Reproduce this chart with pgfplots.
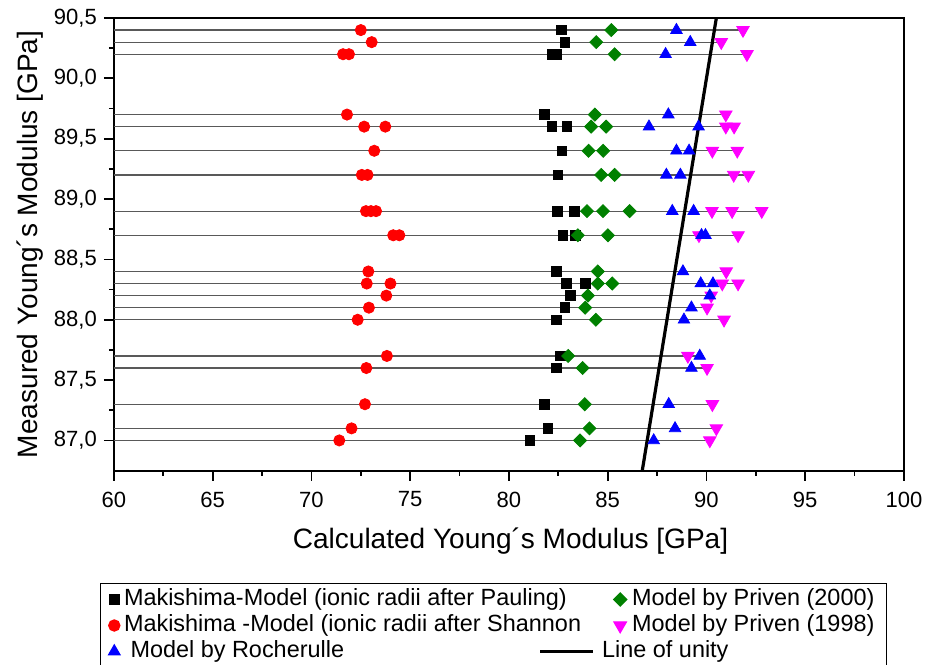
\documentclass[border=0pt]{standalone}
\usepackage{fontspec}
\setmainfont{Liberation Sans}
\usepackage{pgfplots}
\pgfplotsset{compat=1.18}
\pgfplotsset{
  marklegend/.style={legend image code/.code={\draw[mark repeat=2,mark phase=2,##1] plot coordinates {(0pt,0pt) (4pt,0pt) (8pt,0pt)};}},
  unitylegend/.style={legend image code/.code={\draw[##1,overlay] (-36pt,0pt) -- (-9.5pt,0pt); \path[draw=none,fill=none] (0pt,0pt) (8pt,0pt);}},
}
\begin{document}
\begin{tikzpicture}
\begin{axis}[
  scale only axis, width=394.5pt, height=226pt,
  xmin=60, xmax=100, ymin=86.75, ymax=90.5,
  xtick={60,65,70,75,80,85,90,95,100}, minor x tick num=1,
  ytick={87,87.5,88,88.5,89,89.5,90,90.5}, minor y tick num=1,
  xtick pos=lower, ytick pos=left,
  tick align=outside, major tick length=5pt, minor tick length=2.5pt,
  axis line style={line width=1pt, -},
  every tick/.style={line width=0.9pt, black},
  /pgf/number format/assume math mode=true,
  tick label style={font=\fontsize{11pt}{13pt}\selectfont},
  y tick label style={/pgf/number format/.cd, fixed, fixed zerofill, precision=1, use comma},
  x tick label style={yshift=-2pt, /pgf/number format/.cd, fixed, precision=0},
  xlabel={Calculated Young´s Modulus [GPa]},
  ylabel={Measured Young´s Modulus [GPa]},
  every axis x label/.style={at={(axis description cs:0.502,-0.155)}, anchor=center, font=\fontsize{14pt}{16pt}\selectfont},
  every axis y label/.style={at={(axis description cs:-0.1065,0.5)}, anchor=center, rotate=90, font=\fontsize{14pt}{16pt}\selectfont},
  unbounded coords=jump,
  legend columns=2,
  legend style={at={(axis description cs:-0.0177,-0.248)}, anchor=north west, draw=black, line width=0.6pt,
    font=\fontsize{11.7pt}{13pt}\selectfont, inner xsep=4pt, inner ysep=1.5pt, row sep=0pt,
    nodes={inner ysep=0.5pt, text height=9pt, text depth=3pt},
    /tikz/every even column/.append style={column sep=13.5pt}},
  legend cell align=left,
  marklegend,
]
% horizontal row lines
\addplot[forget plot, black!65, line width=0.6pt] coordinates {
(60,90.4) (91.85,90.4) (nan,nan)
(60,90.3) (90.75,90.3) (nan,nan)
(60,90.2) (92.05,90.2) (nan,nan)
(60,89.7) (90.98,89.7) (nan,nan)
(60,89.6) (91.4,89.6) (nan,nan)
(60,89.4) (91.56,89.4) (nan,nan)
(60,89.2) (92.12,89.2) (nan,nan)
(60,88.9) (92.8,88.9) (nan,nan)
(60,88.7) (91.6,88.7) (nan,nan)
(60,88.4) (91.0,88.4) (nan,nan)
(60,88.3) (91.6,88.3) (nan,nan)
(60,88.2) (90.24,88.2) (nan,nan)
(60,88.1) (90.03,88.1) (nan,nan)
(60,88.0) (90.89,88.0) (nan,nan)
(60,87.7) (89.66,87.7) (nan,nan)
(60,87.6) (90.03,87.6) (nan,nan)
(60,87.3) (90.3,87.3) (nan,nan)
(60,87.1) (90.5,87.1) (nan,nan)
(60,87.0) (90.17,87.0)
};
% Makishima Pauling (black squares)
\addplot[only marks, mark=square*, mark size=2.4pt, black] coordinates {
(82.64,90.4) (82.84,90.3) (82.2,90.2) (82.4,90.2)
(81.8,89.7) (82.17,89.6) (82.93,89.6) (82.68,89.4) (82.48,89.2)
(82.44,88.9) (83.32,88.9) (82.73,88.7) (83.35,88.7)
(82.39,88.4) (82.9,88.3) (83.88,88.3) (83.1,88.2) (82.83,88.1) (82.39,88.0)
(82.6,87.7) (82.39,87.6) (81.78,87.3) (81.97,87.1) (81.07,87.0)
};
\addlegendentry{Makishima-Model (ionic radii after Pauling)}
% Priven 2000 (green diamonds)
\addplot[only marks, mark=square*, mark options={rotate=45}, mark size=2.3pt, color={rgb,255:red,0;green,128;blue,0}] coordinates {
(85.18,90.4) (84.42,90.3) (85.35,90.2)
(84.35,89.7) (84.16,89.6) (84.92,89.6) (84.03,89.4) (84.77,89.4)
(84.67,89.2) (85.35,89.2) (83.95,88.9) (84.76,88.9) (86.11,88.9)
(83.49,88.7) (85.01,88.7) (84.5,88.4) (84.5,88.3) (85.23,88.3)
(84.0,88.2) (83.86,88.1) (84.4,88.0) (83.0,87.7) (83.73,87.6)
(83.84,87.3) (84.08,87.1) (83.6,87.0)
};
\addlegendentry{Model by Priven (2000)}
% Makishima Shannon (red circles)
\addplot[only marks, mark=*, mark size=2.8pt, color={rgb,255:red,255;green,0;blue,0}] coordinates {
(72.5,90.4) (73.05,90.3) (71.6,90.2) (71.9,90.2)
(71.8,89.7) (72.67,89.6) (73.74,89.6) (73.18,89.4) (72.55,89.2) (72.84,89.2)
(72.76,88.9) (73.01,88.9) (73.27,88.9) (74.14,88.7) (74.45,88.7)
(72.88,88.4) (72.8,88.3) (74.0,88.3) (73.79,88.2) (72.91,88.1) (72.34,88.0)
(73.82,87.7) (72.78,87.6) (72.71,87.3) (72.03,87.1) (71.41,87.0)
};
\addlegendentry{Makishima -Model (ionic radii after Shannon}
% Priven 1998 (magenta down triangles)
\addplot[only marks, mark=triangle*, mark options={rotate=180}, mark size=3.6pt, color={rgb,255:red,255;green,0;blue,255}] coordinates {
(91.85,90.4) (90.75,90.3) (92.05,90.2)
(90.98,89.7) (90.98,89.6) (91.4,89.6) (90.3,89.4) (91.56,89.4)
(91.38,89.2) (92.12,89.2) (90.28,88.9) (91.3,88.9) (92.8,88.9)
(89.62,88.7) (91.6,88.7) (91.0,88.4) (90.8,88.3) (91.6,88.3)
(90.24,88.2) (90.03,88.1) (90.89,88.0) (89.06,87.7) (90.03,87.6)
(90.3,87.3) (90.5,87.1) (90.17,87.0)
};
\addlegendentry{Model by Priven (1998)}
% Rocherulle (blue triangles)
\addplot[only marks, mark=triangle*, mark size=3.3pt, color={rgb,255:red,0;green,0;blue,255}] coordinates {
(88.48,90.4) (89.18,90.3) (87.93,90.2)
(88.07,89.7) (87.09,89.6) (89.6,89.6) (88.48,89.4) (89.12,89.4)
(87.97,89.2) (88.68,89.2) (88.27,88.9) (89.35,88.9)
(89.75,88.7) (89.95,88.7) (88.81,88.4) (89.71,88.3) (90.33,88.3)
(90.17,88.2) (89.24,88.1) (88.86,88.0) (89.66,87.7) (89.24,87.6)
(88.09,87.3) (88.41,87.1) (87.33,87.0)
};
\addlegendentry{\ Model by Rocherulle}
% line of unity
\addplot[black, line width=1.6pt, unitylegend] coordinates {(86.75,86.75) (90.5,90.5)};
\addlegendentry{\hspace*{-15pt}Line of unity}
\end{axis}
\pgfresetboundingbox
\path ([xshift=-56.9pt,yshift=-96.9pt]current axis.south west) rectangle ([xshift=15.5pt,yshift=9pt]current axis.north east);
\end{tikzpicture}
\end{document}
